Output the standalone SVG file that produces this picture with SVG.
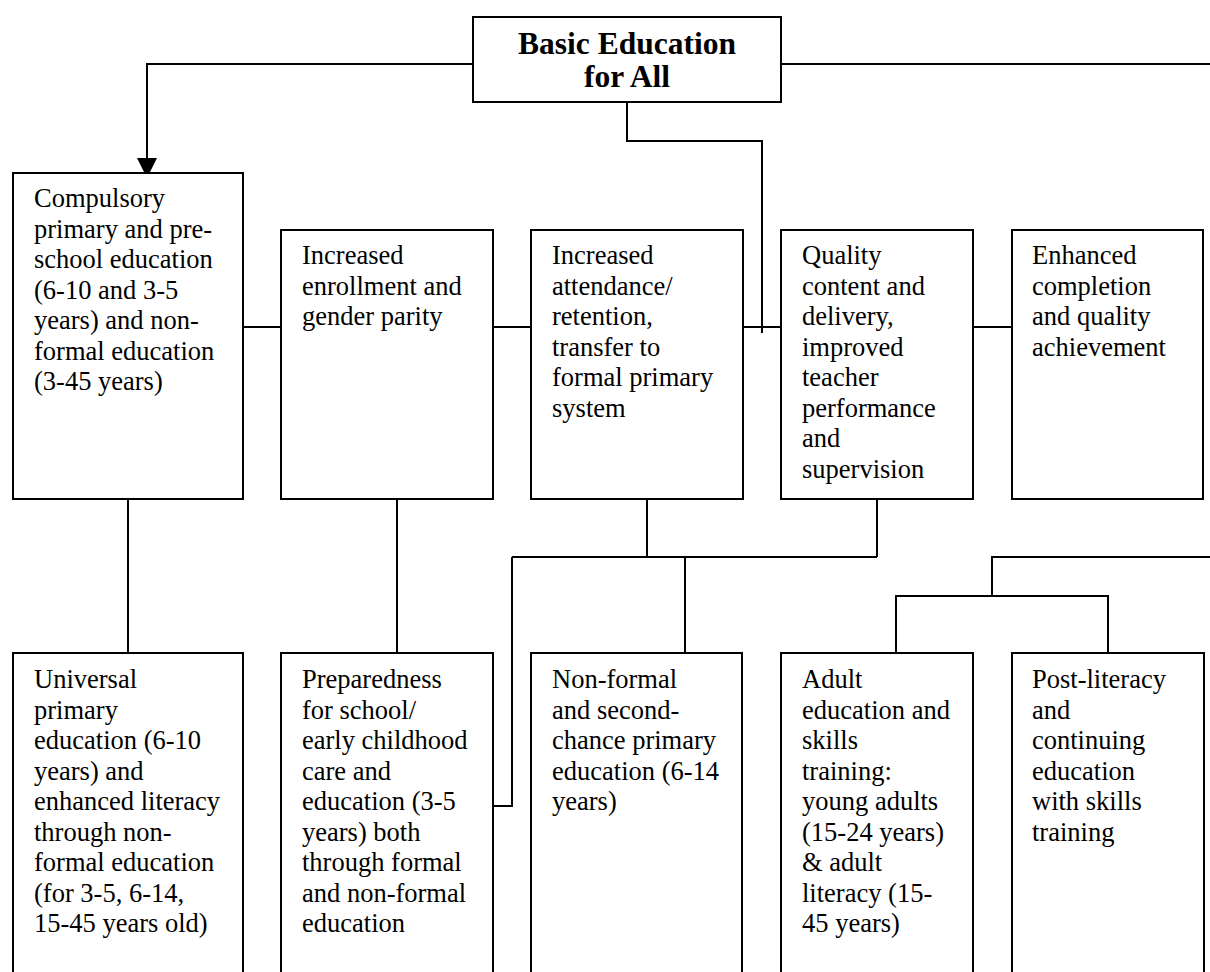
<svg xmlns="http://www.w3.org/2000/svg" width="1210" height="972" viewBox="0 0 1210 972">
<style>
.box{fill:#fff;stroke:#000;stroke-width:2}
.t{font-family:"Liberation Serif","Times New Roman",serif;font-size:26.5px;fill:#000}
.title{font-family:"Liberation Serif","Times New Roman",serif;font-size:31.5px;font-weight:bold;fill:#000;text-anchor:middle}
.c{fill:none;stroke:#000;stroke-width:2}
</style>
<rect width="1210" height="972" fill="#fff"/>
<g id="connectors">
<path class="c" d="M473 64 H147 V160"/>
<polygon points="137,158 157,158 147,178" fill="#000"/>
<path class="c" d="M781 64 H1212"/>
<path class="c" d="M627 102 V141 H762 V333"/>
<path class="c" d="M243 327 H281 M493 327 H531 M743 327 H781 M973 327 H1012"/>
<path class="c" d="M128 499 V653 M397 499 V653"/>
<path class="c" d="M647 499 V557 M877 499 V557 M512 557 H877 M685 557 V653 M512 557 V806 H493"/>
<path class="c" d="M1212 557 H992 V596 M896 653 V596 H1108 V653"/>
</g>
<g id="n0">
<rect class="box" x="473" y="17" width="308" height="85"/>
<text class="title" x="627" y="54">Basic Education</text>
<text class="title" x="627" y="87">for All</text>
</g>
<g id="n1">
<rect class="box" x="13" y="173" width="230" height="326"/>
<text class="t" x="34" y="207"><tspan x="34">Compulsory</tspan><tspan x="34" dy="30.5">primary and pre-</tspan><tspan x="34" dy="30.5">school education</tspan><tspan x="34" dy="30.5">(6-10 and 3-5</tspan><tspan x="34" dy="30.5">years) and non-</tspan><tspan x="34" dy="30.5">formal education</tspan><tspan x="34" dy="30.5">(3-45 years)</tspan></text>
</g>
<g id="n2">
<rect class="box" x="281" y="230" width="212" height="269"/>
<text class="t" x="302" y="264"><tspan x="302">Increased</tspan><tspan x="302" dy="30.5">enrollment and</tspan><tspan x="302" dy="30.5">gender parity</tspan></text>
</g>
<g id="n3">
<rect class="box" x="531" y="230" width="212" height="269"/>
<text class="t" x="552" y="264"><tspan x="552">Increased</tspan><tspan x="552" dy="30.5">attendance/</tspan><tspan x="552" dy="30.5">retention,</tspan><tspan x="552" dy="30.5">transfer to</tspan><tspan x="552" dy="30.5">formal primary</tspan><tspan x="552" dy="30.5">system</tspan></text>
</g>
<g id="n4">
<rect class="box" x="781" y="230" width="192" height="269"/>
<text class="t" x="802" y="264"><tspan x="802">Quality</tspan><tspan x="802" dy="30.5">content and</tspan><tspan x="802" dy="30.5">delivery,</tspan><tspan x="802" dy="30.5">improved</tspan><tspan x="802" dy="30.5">teacher</tspan><tspan x="802" dy="30.5">performance</tspan><tspan x="802" dy="30.5">and</tspan><tspan x="802" dy="30.5">supervision</tspan></text>
</g>
<g id="n5">
<rect class="box" x="1012" y="230" width="191" height="269"/>
<text class="t" x="1032" y="264"><tspan x="1032">Enhanced</tspan><tspan x="1032" dy="30.5">completion</tspan><tspan x="1032" dy="30.5">and quality</tspan><tspan x="1032" dy="30.5">achievement</tspan></text>
</g>
<g id="n6">
<rect class="box" x="13" y="653" width="230" height="330"/>
<text class="t" x="34" y="688"><tspan x="34">Universal</tspan><tspan x="34" dy="30.5">primary</tspan><tspan x="34" dy="30.5">education (6-10</tspan><tspan x="34" dy="30.5">years) and</tspan><tspan x="34" dy="30.5">enhanced literacy</tspan><tspan x="34" dy="30.5">through non-</tspan><tspan x="34" dy="30.5">formal education</tspan><tspan x="34" dy="30.5">(for 3-5, 6-14,</tspan><tspan x="34" dy="30.5">15-45 years old)</tspan></text>
</g>
<g id="n7">
<rect class="box" x="281" y="653" width="212" height="330"/>
<text class="t" x="302" y="688"><tspan x="302">Preparedness</tspan><tspan x="302" dy="30.5">for school/</tspan><tspan x="302" dy="30.5">early childhood</tspan><tspan x="302" dy="30.5">care and</tspan><tspan x="302" dy="30.5">education (3-5</tspan><tspan x="302" dy="30.5">years) both</tspan><tspan x="302" dy="30.5">through formal</tspan><tspan x="302" dy="30.5">and non-formal</tspan><tspan x="302" dy="30.5">education</tspan></text>
</g>
<g id="n8">
<rect class="box" x="531" y="653" width="211" height="330"/>
<text class="t" x="552" y="688"><tspan x="552">Non-formal</tspan><tspan x="552" dy="30.5">and second-</tspan><tspan x="552" dy="30.5">chance primary</tspan><tspan x="552" dy="30.5">education (6-14</tspan><tspan x="552" dy="30.5">years)</tspan></text>
</g>
<g id="n9">
<rect class="box" x="781" y="653" width="192" height="330"/>
<text class="t" x="802" y="688"><tspan x="802">Adult</tspan><tspan x="802" dy="30.5">education and</tspan><tspan x="802" dy="30.5">skills</tspan><tspan x="802" dy="30.5">training:</tspan><tspan x="802" dy="30.5">young adults</tspan><tspan x="802" dy="30.5">(15-24 years)</tspan><tspan x="802" dy="30.5">&amp; adult</tspan><tspan x="802" dy="30.5">literacy (15-</tspan><tspan x="802" dy="30.5">45 years)</tspan></text>
</g>
<g id="n10">
<rect class="box" x="1012" y="653" width="192" height="330"/>
<text class="t" x="1032" y="688"><tspan x="1032">Post-literacy</tspan><tspan x="1032" dy="30.5">and</tspan><tspan x="1032" dy="30.5">continuing</tspan><tspan x="1032" dy="30.5">education</tspan><tspan x="1032" dy="30.5">with skills</tspan><tspan x="1032" dy="30.5">training</tspan></text>
</g>
</svg>
